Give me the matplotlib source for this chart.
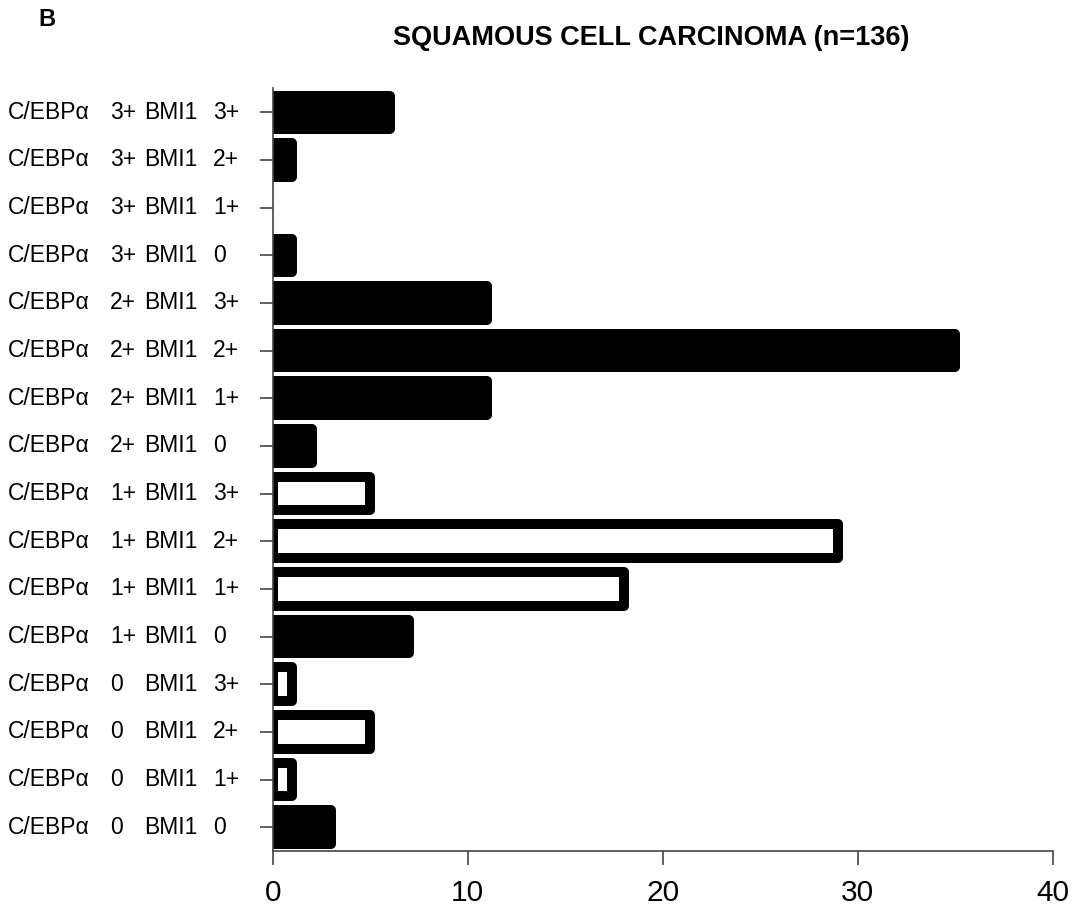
import matplotlib.pyplot as plt
import matplotlib.transforms as mtransforms

plt.rcParams['font.family'] = ['Liberation Sans', 'DejaVu Sans']

# Cases per C/EBPa / BMI1 score combination, top to bottom
cebpa = ['3+', '3+', '3+', '3+', '2+', '2+', '2+', '2+',
         '1+', '1+', '1+', '1+', '0', '0', '0', '0']
bmi1 = ['3+', '2+', '1+', '0', '3+', '2+', '1+', '0',
        '3+', '2+', '1+', '0', '3+', '2+', '1+', '0']
counts = [6, 1, 0, 1, 11, 35, 11, 2, 5, 29, 18, 7, 1, 5, 1, 3]
# filled = black bar, otherwise open bar with thick outline
filled = [True, True, True, True, True, True, True, True,
          False, False, False, True, False, False, False, True]

fig = plt.figure(figsize=(10.74, 9.09), dpi=100)
ax = fig.add_axes([0.254, 0.0638, 0.726, 0.839])

n = len(counts)
ypos = [n - 1 - i for i in range(n)]
for y, v, f in zip(ypos, counts, filled):
    if v == 0:
        continue
    ax.barh(y, v, height=0.7, color='black' if f else 'white',
            edgecolor='black', linewidth=7.2, joinstyle='round')

ax.set_xlim(0, 40)
ax.set_ylim(-0.5, n - 0.5)
ax.set_xticks([0, 10, 20, 30, 40])
ax.tick_params(axis='x', labelsize=21.5, length=10, width=1.2, color='#444444', pad=10)
ax.set_yticks(ypos)
ax.set_yticklabels([])
ax.tick_params(axis='y', length=9.5, width=1.2, color='#444444')
for s in ['top', 'right']:
    ax.spines[s].set_visible(False)
for s in ['left', 'bottom']:
    ax.spines[s].set_linewidth(1.2)
    ax.spines[s].set_color('#444444')

# row labels laid out in columns
trans = mtransforms.blended_transform_factory(fig.transFigure, ax.transData)
cols = [8 / 1074, 110 / 1074, 144 / 1074, 213 / 1074]
for y, a, b in zip(ypos, cebpa, bmi1):
    for x, s in zip(cols, ['C/EBP\u03b1', a, 'BMI1', b]):
        ax.text(x, y, s, transform=trans, ha='left', va='center',
                fontsize=16.5, clip_on=False)

fig.text(651 / 1074, 1 - 38 / 909, 'SQUAMOUS CELL CARCINOMA (n=136)',
         ha='center', va='center', fontsize=19.5, fontweight='bold')
fig.text(38 / 1074, 1 - 20 / 909, 'B', ha='left', va='center',
         fontsize=17, fontweight='bold')

fig.savefig('out.png', dpi=100)
